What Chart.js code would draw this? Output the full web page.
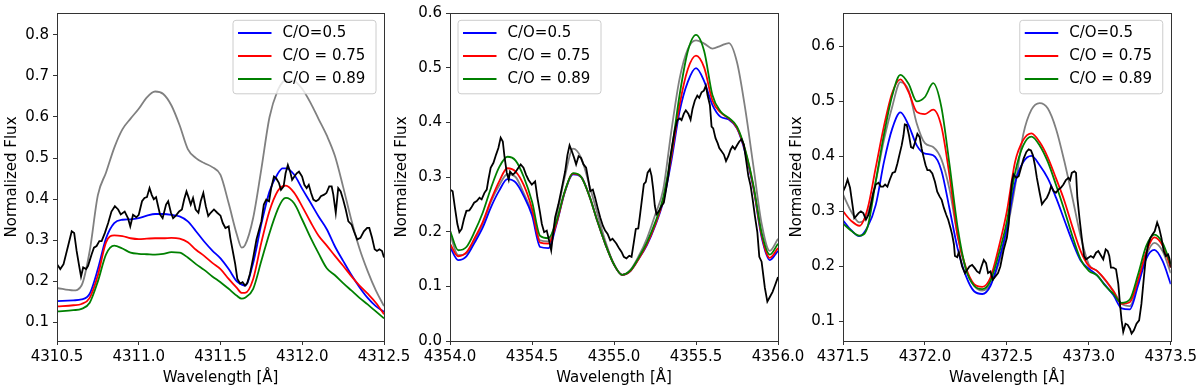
<!DOCTYPE html>
<html>
<head>
<meta charset="utf-8">
<script src="https://cdn.jsdelivr.net/npm/chart.js@4/dist/chart.umd.min.js"></script>
<style>
  html, body { margin: 0; padding: 0; background: #fff; }
  #wrap { position: relative; width: 1200px; height: 392px; overflow: hidden; }
  canvas { position: absolute; top: 0; }
</style>
</head>
<body>
<div id="wrap">
  <canvas id="c1" width="420" height="392" style="left:0px"></canvas>
  <canvas id="c2" width="420" height="392" style="left:390px"></canvas>
  <canvas id="c3" width="415" height="392" style="left:785px"></canvas>
</div>
<script>
// legend / colours
const legendLabels = ['C/O=0.5', 'C/O = 0.75', 'C/O = 0.89'];
const modelColors = ['#0000ff', '#ff0000', '#008000'];

// ---------- panel 1 (4310.5 - 4312.5) ----------
const xRange1 = [4310.5, 4312.5];
const yRange1 = [0.055, 0.853];
const xTicks1 = [4310.5, 4311.0, 4311.5, 4312.0, 4312.5];
const yTicks1 = [0.1, 0.2, 0.3, 0.4, 0.5, 0.6, 0.7, 0.8];
const wave1 = [4310.50, 4310.60, 4310.65, 4310.70, 4310.75, 4310.80, 4310.85, 4310.90, 4310.95, 4311.00,
  4311.05, 4311.10, 4311.15, 4311.20, 4311.25, 4311.30, 4311.35, 4311.40, 4311.45, 4311.50,
  4311.55, 4311.60, 4311.63, 4311.65, 4311.70, 4311.75, 4311.80, 4311.85, 4311.88, 4311.90,
  4311.95, 4312.00, 4312.05, 4312.10, 4312.15, 4312.20, 4312.25, 4312.30, 4312.35, 4312.40,
  4312.45, 4312.50];
const grey1 = [0.184, 0.178, 0.190, 0.274, 0.410, 0.465, 0.525, 0.570, 0.596, 0.620,
  0.648, 0.662, 0.656, 0.628, 0.580, 0.522, 0.500, 0.488, 0.478, 0.459,
  0.390, 0.314, 0.282, 0.288, 0.355, 0.474, 0.600, 0.665, 0.685, 0.690,
  0.688, 0.668, 0.635, 0.595, 0.555, 0.505, 0.430, 0.350, 0.280, 0.225,
  0.178, 0.140];
const blue1 = [0.152, 0.154, 0.156, 0.170, 0.230, 0.305, 0.342, 0.350, 0.351, 0.354,
  0.360, 0.364, 0.364, 0.362, 0.358, 0.346, 0.322, 0.297, 0.275, 0.256,
  0.230, 0.200, 0.192, 0.190, 0.245, 0.340, 0.419, 0.462, 0.475, 0.475,
  0.460, 0.425, 0.392, 0.358, 0.327, 0.285, 0.250, 0.216, 0.186, 0.160,
  0.140, 0.126];
const red1 = [0.139, 0.142, 0.145, 0.160, 0.215, 0.295, 0.312, 0.310, 0.305, 0.303,
  0.304, 0.305, 0.305, 0.306, 0.304, 0.295, 0.277, 0.262, 0.245, 0.230,
  0.206, 0.184, 0.172, 0.172, 0.206, 0.295, 0.372, 0.420, 0.432, 0.433,
  0.416, 0.382, 0.345, 0.311, 0.287, 0.262, 0.238, 0.213, 0.190, 0.170,
  0.148, 0.120];
const green1 = [0.127, 0.130, 0.133, 0.148, 0.200, 0.266, 0.287, 0.280, 0.270, 0.267,
  0.266, 0.265, 0.267, 0.271, 0.270, 0.258, 0.242, 0.228, 0.212, 0.198,
  0.182, 0.165, 0.158, 0.160, 0.182, 0.250, 0.318, 0.375, 0.398, 0.403,
  0.390, 0.350, 0.307, 0.268, 0.232, 0.215, 0.196, 0.178, 0.160, 0.144,
  0.127, 0.110];
const obsWave1 = [4310.500, 4310.520, 4310.540, 4310.570, 4310.590, 4310.605, 4310.620, 4310.637, 4310.647, 4310.660,
  4310.678, 4310.690, 4310.712, 4310.726, 4310.742, 4310.759, 4310.773, 4310.793, 4310.813, 4310.833,
  4310.854, 4310.874, 4310.890, 4310.914, 4310.934, 4310.948, 4310.965, 4310.985, 4311.000, 4311.020,
  4311.035, 4311.050, 4311.066, 4311.080, 4311.092, 4311.106, 4311.116, 4311.130, 4311.146, 4311.167,
  4311.180, 4311.197, 4311.210, 4311.227, 4311.247, 4311.264, 4311.278, 4311.292, 4311.304, 4311.318,
  4311.332, 4311.348, 4311.365, 4311.379, 4311.395, 4311.410, 4311.425, 4311.440, 4311.460, 4311.480,
  4311.500, 4311.514, 4311.530, 4311.550, 4311.560, 4311.575, 4311.590, 4311.603, 4311.620, 4311.635,
  4311.650, 4311.664, 4311.680, 4311.700, 4311.720, 4311.736, 4311.750, 4311.765, 4311.780, 4311.797,
  4311.810, 4311.827, 4311.840, 4311.857, 4311.870, 4311.886, 4311.898, 4311.912, 4311.926, 4311.938,
  4311.952, 4311.966, 4311.980, 4311.999, 4312.013, 4312.027, 4312.040, 4312.054, 4312.068, 4312.084,
  4312.100, 4312.114, 4312.134, 4312.148, 4312.165, 4312.180, 4312.190, 4312.205, 4312.220, 4312.235,
  4312.250, 4312.266, 4312.282, 4312.302, 4312.316, 4312.336, 4312.356, 4312.377, 4312.397, 4312.410,
  4312.427, 4312.443, 4312.457, 4312.472, 4312.488, 4312.500];
const obsFlux1 = [0.242, 0.230, 0.242, 0.290, 0.322, 0.318, 0.274, 0.234, 0.212, 0.234,
  0.230, 0.238, 0.266, 0.282, 0.286, 0.298, 0.298, 0.318, 0.342, 0.370,
  0.383, 0.375, 0.363, 0.370, 0.354, 0.334, 0.362, 0.356, 0.362, 0.395,
  0.403, 0.405, 0.427, 0.410, 0.400, 0.405, 0.387, 0.363, 0.354, 0.387,
  0.395, 0.367, 0.354, 0.360, 0.370, 0.375, 0.400, 0.419, 0.405, 0.387,
  0.403, 0.375, 0.367, 0.395, 0.415, 0.383, 0.359, 0.367, 0.375, 0.367,
  0.360, 0.342, 0.330, 0.334, 0.306, 0.274, 0.242, 0.206, 0.195, 0.198,
  0.190, 0.196, 0.218, 0.258, 0.302, 0.326, 0.346, 0.387, 0.399, 0.395,
  0.427, 0.455, 0.451, 0.440, 0.423, 0.431, 0.463, 0.483, 0.467, 0.447,
  0.455, 0.463, 0.467, 0.455, 0.435, 0.427, 0.435, 0.415, 0.399, 0.395,
  0.399, 0.407, 0.411, 0.415, 0.431, 0.431, 0.411, 0.367, 0.427, 0.419,
  0.399, 0.375, 0.346, 0.338, 0.322, 0.302, 0.306, 0.322, 0.330, 0.330,
  0.306, 0.278, 0.274, 0.278, 0.274, 0.258];

// ---------- panel 2 (4354.0 - 4356.0) ----------
const xRange2 = [4354.0, 4356.0];
const yRange2 = [0.0, 0.6];
const xTicks2 = [4354.0, 4354.5, 4355.0, 4355.5, 4356.0];
const yTicks2 = [0.0, 0.1, 0.2, 0.3, 0.4, 0.5, 0.6];
const wave2 = [4354.00, 4354.05, 4354.10, 4354.15, 4354.20, 4354.25, 4354.30, 4354.35, 4354.40, 4354.45,
  4354.50, 4354.55, 4354.60, 4354.65, 4354.70, 4354.75, 4354.80, 4354.85, 4354.90, 4354.95,
  4355.00, 4355.05, 4355.10, 4355.15, 4355.20, 4355.25, 4355.30, 4355.35, 4355.40, 4355.45,
  4355.50, 4355.55, 4355.60, 4355.65, 4355.70, 4355.75, 4355.80, 4355.85, 4355.90, 4355.95,
  4356.00];
const grey2 = [0.196, 0.157, 0.160, 0.185, 0.215, 0.255, 0.285, 0.305, 0.300, 0.270,
  0.235, 0.184, 0.182, 0.230, 0.300, 0.352, 0.335, 0.285, 0.232, 0.180,
  0.140, 0.121, 0.130, 0.155, 0.187, 0.230, 0.277, 0.385, 0.480, 0.534,
  0.550, 0.544, 0.535, 0.540, 0.545, 0.510, 0.425, 0.320, 0.215, 0.165,
  0.187];
const blue2 = [0.172, 0.148, 0.155, 0.180, 0.208, 0.245, 0.275, 0.296, 0.290, 0.265,
  0.230, 0.172, 0.170, 0.214, 0.272, 0.305, 0.300, 0.265, 0.218, 0.175,
  0.140, 0.121, 0.128, 0.150, 0.175, 0.210, 0.255, 0.330, 0.420, 0.474,
  0.499, 0.475, 0.432, 0.410, 0.405, 0.389, 0.345, 0.280, 0.190, 0.148,
  0.165];
const red2 = [0.178, 0.155, 0.162, 0.188, 0.218, 0.258, 0.292, 0.316, 0.310, 0.285,
  0.242, 0.180, 0.178, 0.216, 0.273, 0.306, 0.300, 0.265, 0.218, 0.175,
  0.140, 0.121, 0.128, 0.150, 0.177, 0.212, 0.258, 0.338, 0.432, 0.497,
  0.522, 0.500, 0.440, 0.418, 0.407, 0.390, 0.348, 0.282, 0.194, 0.152,
  0.170];
const green2 = [0.202, 0.166, 0.172, 0.200, 0.235, 0.280, 0.318, 0.337, 0.330, 0.300,
  0.255, 0.192, 0.188, 0.220, 0.274, 0.307, 0.300, 0.265, 0.218, 0.175,
  0.140, 0.121, 0.129, 0.152, 0.180, 0.216, 0.262, 0.345, 0.450, 0.530,
  0.560, 0.530, 0.450, 0.420, 0.408, 0.392, 0.350, 0.285, 0.198, 0.158,
  0.178];
const obsWave2 = [4354.000, 4354.016, 4354.030, 4354.045, 4354.057, 4354.071, 4354.085, 4354.100, 4354.118, 4354.130,
  4354.147, 4354.163, 4354.180, 4354.193, 4354.210, 4354.224, 4354.234, 4354.248, 4354.265, 4354.281,
  4354.295, 4354.309, 4354.322, 4354.332, 4354.346, 4354.358, 4354.366, 4354.383, 4354.397, 4354.417,
  4354.431, 4354.448, 4354.464, 4354.478, 4354.499, 4354.519, 4354.533, 4354.549, 4354.560, 4354.574,
  4354.590, 4354.604, 4354.617, 4354.641, 4354.661, 4354.682, 4354.702, 4354.716, 4354.729, 4354.743,
  4354.757, 4354.769, 4354.784, 4354.798, 4354.814, 4354.830, 4354.845, 4354.855, 4354.871, 4354.885,
  4354.900, 4354.916, 4354.932, 4354.946, 4354.961, 4354.977, 4354.991, 4355.007, 4355.015, 4355.032,
  4355.046, 4355.060, 4355.076, 4355.093, 4355.107, 4355.121, 4355.133, 4355.148, 4355.158, 4355.168,
  4355.182, 4355.194, 4355.205, 4355.219, 4355.229, 4355.239, 4355.249, 4355.259, 4355.275, 4355.290,
  4355.304, 4355.316, 4355.331, 4355.341, 4355.357, 4355.371, 4355.386, 4355.402, 4355.412, 4355.426,
  4355.438, 4355.453, 4355.467, 4355.479, 4355.493, 4355.508, 4355.520, 4355.534, 4355.548, 4355.560,
  4355.571, 4355.585, 4355.595, 4355.605, 4355.619, 4355.632, 4355.642, 4355.656, 4355.670, 4355.683,
  4355.697, 4355.711, 4355.723, 4355.737, 4355.752, 4355.764, 4355.778, 4355.792, 4355.805, 4355.819,
  4355.833, 4355.845, 4355.859, 4355.874, 4355.886, 4355.900, 4355.910, 4355.920, 4355.935, 4355.951,
  4355.967, 4355.982, 4356.000];
const obsFlux2 = [0.277, 0.274, 0.244, 0.214, 0.199, 0.205, 0.223, 0.238, 0.239, 0.244,
  0.253, 0.256, 0.262, 0.259, 0.271, 0.277, 0.295, 0.317, 0.326, 0.341,
  0.353, 0.372, 0.365, 0.338, 0.308, 0.295, 0.310, 0.304, 0.308, 0.317,
  0.323, 0.317, 0.304, 0.295, 0.286, 0.292, 0.262, 0.235, 0.214, 0.199,
  0.202, 0.184, 0.166, 0.226, 0.250, 0.280, 0.310, 0.340, 0.358, 0.347,
  0.335, 0.323, 0.338, 0.335, 0.323, 0.317, 0.292, 0.274, 0.277, 0.262,
  0.244, 0.226, 0.211, 0.202, 0.196, 0.184, 0.187, 0.181, 0.178, 0.169,
  0.163, 0.154, 0.151, 0.156, 0.154, 0.181, 0.205, 0.206, 0.229, 0.253,
  0.287, 0.291, 0.308, 0.314, 0.302, 0.278, 0.247, 0.232, 0.238, 0.247,
  0.253, 0.274, 0.302, 0.332, 0.362, 0.386, 0.404, 0.407, 0.404, 0.416,
  0.422, 0.416, 0.405, 0.425, 0.440, 0.449, 0.445, 0.455, 0.458, 0.467,
  0.449, 0.431, 0.392, 0.389, 0.371, 0.362, 0.353, 0.347, 0.341, 0.329,
  0.338, 0.350, 0.356, 0.351, 0.359, 0.365, 0.369, 0.359, 0.332, 0.302,
  0.284, 0.260, 0.229, 0.199, 0.154, 0.145, 0.121, 0.097, 0.072, 0.081,
  0.090, 0.102, 0.117];

// ---------- panel 3 (4371.5 - 4373.5) ----------
const xRange3 = [4371.5, 4373.5];
const yRange3 = [0.0646, 0.6606];
const xTicks3 = [4371.5, 4372.0, 4372.5, 4373.0, 4373.5];
const yTicks3 = [0.1, 0.2, 0.3, 0.4, 0.5, 0.6];
const wave3 = [4371.50, 4371.55, 4371.60, 4371.65, 4371.70, 4371.75, 4371.80, 4371.85, 4371.90, 4371.95,
  4372.00, 4372.05, 4372.10, 4372.15, 4372.20, 4372.25, 4372.30, 4372.35, 4372.40, 4372.45,
  4372.50, 4372.55, 4372.60, 4372.65, 4372.70, 4372.75, 4372.80, 4372.85, 4372.90, 4372.95,
  4373.00, 4373.05, 4373.10, 4373.15, 4373.20, 4373.25, 4373.30, 4373.35, 4373.40, 4373.45,
  4373.50];
const grey3 = [0.331, 0.300, 0.280, 0.295, 0.355, 0.430, 0.490, 0.535, 0.520, 0.460,
  0.424, 0.417, 0.395, 0.340, 0.255, 0.195, 0.165, 0.156, 0.168, 0.205,
  0.265, 0.345, 0.440, 0.485, 0.497, 0.487, 0.450, 0.392, 0.325, 0.255,
  0.204, 0.192, 0.175, 0.156, 0.132, 0.128, 0.170, 0.220, 0.243, 0.228,
  0.188];
const blue3 = [0.284, 0.266, 0.255, 0.272, 0.312, 0.390, 0.450, 0.480, 0.457, 0.420,
  0.405, 0.402, 0.375, 0.305, 0.232, 0.183, 0.155, 0.150, 0.165, 0.210,
  0.270, 0.352, 0.390, 0.401, 0.384, 0.360, 0.325, 0.285, 0.245, 0.211,
  0.196, 0.184, 0.166, 0.148, 0.124, 0.122, 0.165, 0.214, 0.230, 0.210,
  0.168];
const red3 = [0.300, 0.283, 0.274, 0.305, 0.380, 0.455, 0.515, 0.540, 0.517, 0.481,
  0.477, 0.485, 0.455, 0.365, 0.255, 0.198, 0.168, 0.163, 0.180, 0.234,
  0.300, 0.390, 0.430, 0.442, 0.426, 0.398, 0.360, 0.320, 0.272, 0.228,
  0.201, 0.192, 0.176, 0.155, 0.132, 0.135, 0.175, 0.226, 0.253, 0.238,
  0.198];
const green3 = [0.278, 0.265, 0.256, 0.272, 0.355, 0.440, 0.510, 0.548, 0.532, 0.500,
  0.508, 0.533, 0.490, 0.385, 0.270, 0.195, 0.165, 0.159, 0.174, 0.222,
  0.282, 0.370, 0.420, 0.436, 0.420, 0.390, 0.348, 0.303, 0.255, 0.213,
  0.192, 0.184, 0.165, 0.150, 0.134, 0.140, 0.185, 0.237, 0.258, 0.243,
  0.204];
const obsWave3 = [4371.500, 4371.514, 4371.528, 4371.543, 4371.555, 4371.569, 4371.579, 4371.595, 4371.609, 4371.624,
  4371.640, 4371.656, 4371.670, 4371.684, 4371.700, 4371.717, 4371.731, 4371.745, 4371.757, 4371.771,
  4371.786, 4371.802, 4371.818, 4371.832, 4371.846, 4371.858, 4371.869, 4371.877, 4371.889, 4371.903,
  4371.915, 4371.928, 4371.940, 4371.954, 4371.968, 4371.980, 4371.994, 4372.004, 4372.015, 4372.029,
  4372.045, 4372.061, 4372.075, 4372.090, 4372.102, 4372.116, 4372.130, 4372.142, 4372.156, 4372.166,
  4372.177, 4372.183, 4372.197, 4372.207, 4372.227, 4372.244, 4372.258, 4372.272, 4372.288, 4372.304,
  4372.318, 4372.333, 4372.345, 4372.359, 4372.373, 4372.385, 4372.400, 4372.414, 4372.430, 4372.446,
  4372.460, 4372.480, 4372.500, 4372.511, 4372.521, 4372.531, 4372.541, 4372.558, 4372.572, 4372.586,
  4372.602, 4372.619, 4372.633, 4372.647, 4372.659, 4372.671, 4372.683, 4372.700, 4372.714, 4372.728,
  4372.744, 4372.758, 4372.770, 4372.785, 4372.799, 4372.815, 4372.829, 4372.845, 4372.860, 4372.876,
  4372.886, 4372.896, 4372.912, 4372.922, 4372.930, 4372.943, 4372.957, 4372.971, 4372.983, 4372.997,
  4373.012, 4373.028, 4373.044, 4373.058, 4373.072, 4373.088, 4373.103, 4373.115, 4373.125, 4373.135,
  4373.149, 4373.166, 4373.180, 4373.190, 4373.200, 4373.210, 4373.224, 4373.237, 4373.251, 4373.261,
  4373.275, 4373.291, 4373.307, 4373.321, 4373.336, 4373.348, 4373.362, 4373.376, 4373.388, 4373.402,
  4373.417, 4373.429, 4373.443, 4373.457, 4373.470, 4373.484, 4373.494, 4373.500];
const obsFlux3 = [0.336, 0.345, 0.358, 0.343, 0.318, 0.288, 0.291, 0.297, 0.300, 0.297,
  0.285, 0.294, 0.312, 0.333, 0.349, 0.352, 0.345, 0.345, 0.349, 0.345,
  0.358, 0.370, 0.372, 0.387, 0.405, 0.420, 0.438, 0.458, 0.457, 0.438,
  0.417, 0.415, 0.426, 0.441, 0.435, 0.414, 0.396, 0.384, 0.375, 0.375,
  0.369, 0.354, 0.336, 0.327, 0.321, 0.306, 0.294, 0.285, 0.270, 0.258,
  0.240, 0.219, 0.217, 0.226, 0.200, 0.188, 0.194, 0.200, 0.203, 0.197,
  0.191, 0.188, 0.200, 0.212, 0.206, 0.188, 0.191, 0.176, 0.182, 0.188,
  0.200, 0.230, 0.252, 0.277, 0.324, 0.354, 0.367, 0.361, 0.364, 0.379,
  0.396, 0.408, 0.413, 0.411, 0.402, 0.384, 0.361, 0.334, 0.313, 0.319,
  0.325, 0.334, 0.346, 0.337, 0.334, 0.340, 0.343, 0.349, 0.357, 0.361,
  0.357, 0.370, 0.373, 0.370, 0.325, 0.288, 0.252, 0.219, 0.213, 0.216,
  0.219, 0.216, 0.225, 0.228, 0.221, 0.213, 0.231, 0.228, 0.219, 0.198,
  0.198, 0.195, 0.168, 0.132, 0.102, 0.081, 0.096, 0.094, 0.087, 0.078,
  0.084, 0.096, 0.102, 0.132, 0.180, 0.216, 0.240, 0.252, 0.258, 0.264,
  0.280, 0.270, 0.252, 0.228, 0.219, 0.222, 0.213, 0.198];

// ---------- drawing ----------
Chart.defaults.font.family = "'DejaVu Sans', sans-serif";
Chart.defaults.font.size = 15;
Chart.defaults.color = '#000';

const axisColor = '#333';
const pts = (xs, ys) => xs.map((x, i) => ({ x, y: ys[i] }));

// spines round the axes box
const frame = {
  id: 'frame',
  afterDatasetsDraw(chart) {
    const { ctx, chartArea: a } = chart;
    ctx.save();
    ctx.strokeStyle = axisColor;
    ctx.lineWidth = 1;
    ctx.strokeRect(Math.round(a.left) + 0.5, Math.round(a.top) + 0.5,
      Math.round(a.right) - Math.round(a.left), Math.round(a.bottom) - Math.round(a.top));
    ctx.restore();
  }
};

// matplotlib-like legend box inside the axes
const boxLegend = {
  id: 'boxLegend',
  afterDraw(chart, args, opts) {
    const { ctx, chartArea: a } = chart;
    const w = 143, h = 73.5;
    const left = opts.side === 'left' ? a.left + 8 : a.right - 8 - w;
    const top = a.top + 7.3;
    ctx.save();
    ctx.beginPath();
    ctx.roundRect(left, top, w, h, 3);
    ctx.fillStyle = 'rgba(255,255,255,0.8)';
    ctx.fill();
    ctx.strokeStyle = '#cccccc';
    ctx.lineWidth = 1;
    ctx.stroke();
    ctx.font = "15px 'DejaVu Sans'";
    ctx.textBaseline = 'middle';
    legendLabels.forEach((label, i) => {
      const y = top + 12.7 + i * 23;
      ctx.strokeStyle = modelColors[i];
      ctx.lineWidth = 2;
      ctx.beginPath();
      ctx.moveTo(left + 5, y);
      ctx.lineTo(left + 38.5, y);
      ctx.stroke();
      ctx.fillStyle = '#000';
      ctx.fillText(label, left + 49.5, y);
    });
    ctx.restore();
  }
};

function makePanel(id, p) {
  const model = (data, color) => ({
    data: pts(p.wave, data), borderColor: color, borderWidth: 1.8,
    pointRadius: 0, cubicInterpolationMode: 'monotone', fill: false
  });
  new Chart(document.getElementById(id), {
    type: 'line',
    data: {
      datasets: [
        { data: pts(p.obsWave, p.obsFlux), borderColor: '#000', borderWidth: 1.8, pointRadius: 0, tension: 0, fill: false },
        model(p.green, modelColors[2]),
        model(p.red, modelColors[1]),
        model(p.blue, modelColors[0]),
        model(p.grey, '#808080')
      ]
    },
    options: {
      responsive: false,
      animation: false,
      layout: { padding: { top: 10, right: p.padRight, left: 0, bottom: 0 } },
      plugins: {
        legend: { display: false },
        tooltip: { enabled: false },
        boxLegend: { side: p.side }
      },
      scales: {
        x: {
          type: 'linear', min: p.xRange[0], max: p.xRange[1],
          afterBuildTicks: s => { s.ticks = p.xTicks.map(v => ({ value: v })); },
          afterFit: s => { s.height = 51; },
          ticks: { autoSkip: false, maxRotation: 0, padding: 3, callback: v => v.toFixed(1) },
          grid: { drawOnChartArea: false, drawTicks: true, tickLength: 4, tickColor: axisColor },
          border: { display: true, color: axisColor, width: 1 },
          title: { display: true, text: 'Wavelength [Å]', padding: { top: 0, bottom: 5 } }
        },
        y: {
          type: 'linear', min: p.yRange[0], max: p.yRange[1],
          afterBuildTicks: s => { s.ticks = p.yTicks.map(v => ({ value: v })); },
          afterFit: s => { s.width = p.yWidth; },
          ticks: { padding: 4, callback: v => v.toFixed(1) },
          grid: { drawOnChartArea: false, drawTicks: true, tickLength: 4, tickColor: axisColor },
          border: { display: true, color: axisColor, width: 1 },
          title: { display: true, text: 'Normalized Flux', padding: { top: 3, bottom: 0 } }
        }
      }
    },
    plugins: [frame, boxLegend]
  });
}

makePanel('c1', { wave: wave1, grey: grey1, blue: blue1, red: red1, green: green1,
  obsWave: obsWave1, obsFlux: obsFlux1, xRange: xRange1, yRange: yRange1,
  xTicks: xTicks1, yTicks: yTicks1, yWidth: 57, padRight: 36, side: 'right' });
makePanel('c2', { wave: wave2, grey: grey2, blue: blue2, red: red2, green: green2,
  obsWave: obsWave2, obsFlux: obsFlux2, xRange: xRange2, yRange: yRange2,
  xTicks: xTicks2, yTicks: yTicks2, yWidth: 60, padRight: 32, side: 'left' });
makePanel('c3', { wave: wave3, grey: grey3, blue: blue3, red: red3, green: green3,
  obsWave: obsWave3, obsFlux: obsFlux3, xRange: xRange3, yRange: yRange3,
  xTicks: xTicks3, yTicks: yTicks3, yWidth: 58, padRight: 28, side: 'right' });
</script>
</body>
</html>
